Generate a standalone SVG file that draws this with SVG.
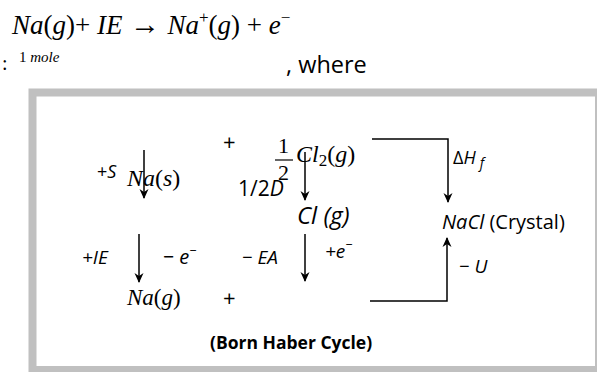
<svg xmlns="http://www.w3.org/2000/svg" width="597" height="372" viewBox="0 0 597 372">
<defs>
<marker id="ah" viewBox="0 0 10 10" refX="9" refY="5" markerWidth="10" markerHeight="10" markerUnits="userSpaceOnUse" orient="auto">
<path d="M0,0.5 L10,5 L0,9.5 L3,5 Z" fill="#000"/>
</marker>
<style>
.tm{font-family:"Liberation Serif",serif;font-style:italic;fill:#000}
.tu{font-family:"Liberation Serif",serif;fill:#000}
.up{font-style:normal}
.sn{font-family:"Open Sans","Liberation Sans",sans-serif;fill:#000}
.it{font-style:italic}
.ln{stroke:#000;stroke-width:1.5;fill:none}
</style>
</defs>
<rect width="597" height="372" fill="#fff"/>
<g id="header">
<text class="tm" x="12" y="34" font-size="27">Na<tspan class="up">(</tspan>g<tspan class="up">)+ </tspan>IE<tspan class="up" font-size="30"> → </tspan>Na<tspan class="up" font-size="17" dy="-11">+</tspan><tspan class="up" dy="11">(</tspan>g<tspan class="up">) + </tspan>e<tspan class="up" font-size="17" dy="-11">−</tspan></text>
<text class="tu" x="2" y="70" font-size="20">:</text>
<text class="tu" x="19" y="62" font-size="15">1 <tspan font-style="italic">mole</tspan></text>
<text class="sn" x="286" y="73" font-size="23.5">, where</text>
</g>
<rect id="frame" x="32.5" y="92.5" width="566.5" height="277.5" fill="#fff" stroke="#c0c0c0" stroke-width="8"/>
<g id="connectors">
<line class="ln" x1="144" y1="150" x2="144" y2="198" marker-end="url(#ah)"/>
<line class="ln" x1="305" y1="152" x2="305" y2="200" marker-end="url(#ah)"/>
<polyline class="ln" points="372,139 448,139 448,202" marker-end="url(#ah)"/>
<line class="ln" x1="139" y1="234" x2="139" y2="282" marker-end="url(#ah)"/>
<line class="ln" x1="305" y1="234" x2="305" y2="281" marker-end="url(#ah)"/>
<polyline class="ln" points="370,301 447,301 447,238" marker-end="url(#ah)"/>
</g>
<g id="node-na-s">
<text class="sn" x="97" y="178" font-size="18">+<tspan class="it">S</tspan></text>
<text class="tm" x="127" y="186" font-size="24">Na<tspan class="up">(</tspan>s<tspan class="up">)</tspan></text>
</g>
<g id="node-plus1"><text class="sn" x="223" y="150" font-size="22">+</text></g>
<g id="node-cl2">
<text class="tu" x="278" y="153" font-size="22">1</text>
<line x1="275" y1="160" x2="293" y2="160" stroke="#000" stroke-width="1.2"/>
<text class="tu" x="278" y="180" font-size="22">2</text>
<text class="tm" x="296" y="162" font-size="24">Cl<tspan class="up" font-size="17" dy="4">2</tspan><tspan class="up" dy="-4">(</tspan>g<tspan class="up">)</tspan></text>
<text class="sn" x="238" y="196" font-size="21">1/2<tspan class="it">D</tspan></text>
</g>
<g id="label-dhf"><text class="sn" x="453" y="164" font-size="18">Δ<tspan class="it">H</tspan><tspan class="it" font-size="14" dx="4" dy="4">f</tspan></text></g>
<g id="node-cl-g"><text class="sn it" x="297" y="224" font-size="24">Cl (g)</text></g>
<g id="node-nacl"><text class="sn" x="442" y="229" font-size="20"><tspan class="it">NaCl</tspan> (Crystal)</text></g>
<g id="labels-row3">
<text class="sn it" x="82" y="264" font-size="19">+IE</text>
<text class="sn it" x="163" y="264" font-size="20">− e<tspan font-size="13" dy="-9">−</tspan></text>
<text class="sn it" x="242" y="264" font-size="19">− EA</text>
<text class="sn it" x="325" y="258" font-size="19">+e<tspan font-size="13" dy="-9">−</tspan></text>
<text class="sn it" x="459" y="273" font-size="19">− U</text>
</g>
<g id="node-na-g"><text class="tm" x="127" y="305" font-size="23">Na<tspan class="up">(</tspan>g<tspan class="up">)</tspan></text></g>
<g id="node-plus2"><text class="sn" x="223" y="306" font-size="22">+</text></g>
<g id="caption"><text class="sn" x="210" y="349" font-size="17.5" font-weight="bold">(Born Haber Cycle)</text></g>
</svg>
